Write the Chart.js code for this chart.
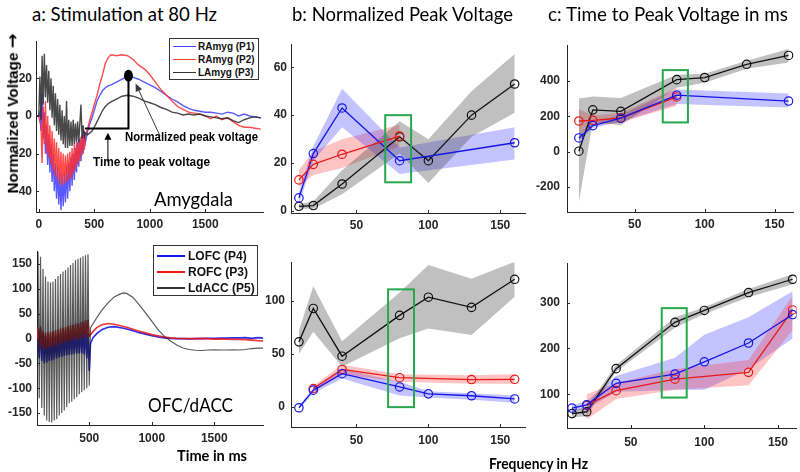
<!DOCTYPE html>
<html><head><meta charset="utf-8">
<script src="https://cdn.jsdelivr.net/npm/chart.js@4.4.0/dist/chart.umd.min.js"></script>
<style>
html,body{margin:0;padding:0;background:#fff;}
#wrap{position:relative;width:800px;height:472px;overflow:hidden;background:#fff;}
canvas{position:absolute;}
.t{position:absolute;white-space:nowrap;color:#000;}
.lg{position:absolute;border:1px solid #333;background:#fff;box-sizing:border-box;}
.ls{position:absolute;}
</style></head><body><div id="wrap"></div>
<script>
// ---------------- Panel a (top): Amygdala, normalized voltage vs time (ms)
const aTopTime = [-25,-10,0,10,20,30,40,50,60,70,80,90,100,110,120,130,140,150,160,170,180,190,200,210,220,230,240,250,260,270,280,290,300,310,320,330,340,350,360,370,380,390,400,410,420,440,460,480,500,525,550,575,600,625,650,700,750,800,850,900,950,1000,1050,1100,1150,1200,1250,1300,1350,1400,1450,1500,1550,1600,1650,1700,1750,1800,1850,1900,1950,2000];
const aTopP3 = [0,0, 0,21,-2,32,6,33,10,27,7,24,3,20,-1,16,-5,12,-8,9,-10,6,-13,3,-15,0,-17,8,-17,-2,-16,-3,-16,-2,-15,-4,-14,-3,-14,-4,6,-12,-5,-11,-9,
  -10,-9,-8,-6,-3,0,3,5,6.5,7.5,
  9,10.5,11,10.5,9.5,8,7,6,4.5,3.5,2,1.5,0.5,1,0.5,1,0,-0.5,-1,-1.5,-1,-2.5,-3.5,-2,-1,-0.5,-1];
const aTopP2 = [0,0, 0,-3,-5,-25,5,-15,8,-20,0,-22,-5,-26,-8,-29,-12,-32,-14,-34,-17,-36,-19,-37,-20,-36,-21,-35,-20,-34,-19,-33,-17,-31,-15,-29,-14,-26,-13,-24,-11,-21,-10,-18,-10,
  -7,-2,2,6,11,17,22,28,31,32.5,
  32,32.5,32,30,27,25,22,18,14,11,8,5,3.5,2,1.5,1,0,-1.5,0,-2,-1,-3,-5,-6,-6,-6.5,-7];
const aTopP1 = [0,0, 0,2,-8,12,-12,2,-20,-5,-26,-10,-30,-15,-35,-20,-40,-25,-44,-27,-47,-30,-50,-31,-48,-30,-46,-27,-44,-25,-40,-22,-37,-20,-34,-17,-30,-14,-27,-12,-24,-10,-20,-8,-14,
  -8,-4,-1,3,8,11,13.5,15,16,16.5,
  18,19.5,21,20.5,19.5,18,16.5,15,13,11,9,7.5,5.5,4,3,2.5,2,2,1.5,1,2,1.5,0,1,0,-0.5,-1];
const aTopXTicks = [0,500,1000,1500];
const aTopYTicks = [-40,-20,0,20];
// annotation marks (data units)
const peakMark = [808, 21.4];
const peakBracket = [416, 808, -6.6];
const arrowTime = [623, -24.4, -8.9];
const arrowPeak = [1093, -10.7, 872, 17.3];

// ---------------- Panel a (bottom): OFC/dACC
const aBotTime = [86,90,100,110,120,130,140,150,160,170,180,190,200,210,220,230,240,250,260,270,280,290,300,310,320,330,340,350,360,370,380,390,400,410,420,430,440,450,460,470,480,490,500,510,530,560,600,650,700,750,775,800,850,900,950,1000,1050,1100,1150,1200,1250,1300,1350,1400,1450,1500,1550,1600,1650,1700,1750,1800,1850,1890];
const aBotP5 = [60,
  175,-120,165,-140,140,-155,125,-165,115,-168,113,-169,115,-165,120,-162,126,-155,130,-150,135,-145,138,-138,143,-130,148,-127,152,-122,158,-118,161,-112,163,-108,166,-104,168,-100,170,-95,
  22,30,42,57,72,84,90,92,91,83,68,52,35,18,5,-5,-13,-19,-22,-23.5,-24,-23,-22.5,-23,-23,-22.5,-23,-22,-20,-19,-19];
const aBotP3 = [0,
  20,-15,25,-20,15,-22,12,-20,12,-18,14,-17,15,-15,17,-14,18,-12,20,-10,22,-8,23,-6,25,-5,27,-4,28,-3,30,-2,31,0,33,1,35,2,37,3,38,5,
  8,14,22,28,30.5,29,26,24.5,23,19,15,11.5,8,5.5,3,1.5,0.5,0,0,0,0.5,0,-1,-0.5,-1,-1.5,-1.5,-2,-3,-4,-4.5];
const aBotP4 = [0,
  15,-40,20,-45,10,-50,5,-48,0,-45,2,-44,3,-42,4,-40,5,-38,6,-37,7,-35,8,-34,9,-33,10,-32,11,-31,12,-30,13,-30,14,-30,15,-32,16,-40,10,-65,
  -10,2,10,18,23,24,22,21,19.5,16,12,9,6,3.5,1.5,0.5,0,0,-0.5,0,0,0.5,0.5,1,1,1.5,1.5,2,0.5,2,1];
const aBotXTicks = [500,1000,1500];
const aBotYTicks = [-150,-100,-50,0,50,100,150];

// ---------------- Panel b: normalized peak voltage vs frequency (Hz)
const bTopFreqBlue = [10,20,40,80,160];
const bTopBlue   = [5.5,24,43,21,28.5];
const bTopBlueLo = [3,21,35,15.5,21.5];
const bTopBlueHi = [8,27,51,26.5,35];
const bTopFreqRed = [10,20,40,80];
const bTopRed   = [13,19.5,23.7,31.3];
const bTopRedLo = [10,15,18,27];
const bTopRedHi = [17,25,30,36];
const bTopFreqBlack = [10,20,40,80,100,130,160];
const bTopBlack   = [2,2.3,11.3,31,21,40,53];
const bTopBlackLo = [1,1,7,24,11.7,31,41];
const bTopBlackHi = [3,4,17,37.5,30,50,65.5];
const bTopBox = [70,88,12,40];

const bBotFreqBlue = [10,20,40,80,100,130,160];
const bBotBlue   = [-0.6,16,31.5,19,12.5,10.7,7.7];
const bBotBlueLo = [-1.5,13,27,11,9,7,4];
const bBotBlueHi = [0.5,18,36,24,15,13,11];
const bBotFreqRed = [20,40,80,130,160];
const bBotRed   = [17.5,35.5,27.7,26,26.2];
const bBotRedLo = [14,31,24,22,22];
const bBotRedHi = [20,40,31,30,31];
const bBotFreqBlack = [10,20,40,80,100,130,160];
const bBotBlack   = [61.5,93,48,86.5,103.6,94,120.5];
const bBotBlackLo = [50,71,38,65,74,68,104];
const bBotBlackHi = [72,114,62,108,134,121,137];
const bBotBox = [72,90,0,111];

// ---------------- Panel c: time to peak voltage (ms) vs frequency (Hz)
const cTopFreqBlue = [10,20,40,80,160];
const cTopBlue   = [78,148,190,320,287];
const cTopBlueLo = [60,135,170,270,250];
const cTopBlueHi = [100,165,210,352,330];
const cTopFreqRed = [10,20,40,80];
const cTopRed   = [174,178,191,310];
const cTopRedLo = [100,150,165,260];
const cTopRedHi = [240,205,220,360];
const cTopFreqBlack = [10,20,40,80,100,130,160];
const cTopBlack   = [3,237,229,408,420,495,545];
const cTopBlackLo = [-285,170,150,362,390,470,505];
const cTopBlackHi = [302,312,304,436,442,515,582];
const cTopBox = [70,88,166,462];

const cBotFreqBlue = [10,20,40,80,100,130,160];
const cBotBlue   = [70,77,124,144,171,212,274];
const cBotBlueLo = [62,68,105,110,110,155,222];
const cBotBlueHi = [76,85,140,180,230,268,325];
const cBotFreqRed = [20,40,80,130,160];
const cBotRed   = [76,108,133,148,284];
const cBotRedLo = [45,90,110,120,240];
const cBotRedHi = [100,125,155,175,315];
const cBotFreqBlack = [10,20,40,80,100,130,160];
const cBotBlack   = [58,62,156,257,283,322,351];
const cBotBlackLo = [50,52,149,245,275,312,340];
const cBotBlackHi = [65,72,164,268,290,330,362];
const cBotBox = [71,88,93,288];

const freqXTicks = [50,100,150];
const bTopYTicks = [0,20,40,60];
const bBotYTicks = [0,50,100];
const cTopYTicks = [-200,0,200,400];
const cBotYTicks = [100,200,300];

// ---------------- drawing
const wrap = document.getElementById('wrap');
const YW = 50, XH = 28, PT = 4, PR = 4;
const AX = '#262626';

const innerTicks = {id:'innerTicks', afterDraw(ch){
  const {ctx, chartArea:a, scales:{x,y}} = ch;
  ctx.save(); ctx.strokeStyle = AX; ctx.lineWidth = 1; ctx.beginPath();
  x.ticks.forEach(t=>{const p=Math.round(x.getPixelForValue(t.value))+0.5; ctx.moveTo(p,a.bottom); ctx.lineTo(p,a.bottom-3);});
  y.ticks.forEach(t=>{const p=Math.round(y.getPixelForValue(t.value))+0.5; ctx.moveTo(a.left,p); ctx.lineTo(a.left+3,p);});
  ctx.stroke(); ctx.restore();
}};

function boxPlugin(b){
  return {id:'greenBox', afterDatasetsDraw(ch){
    const {ctx, scales:{x,y}} = ch;
    const x0=x.getPixelForValue(b[0]), x1=x.getPixelForValue(b[1]);
    const y0=y.getPixelForValue(b[2]), y1=y.getPixelForValue(b[3]);
    ctx.save(); ctx.strokeStyle='#27a84f'; ctx.lineWidth=2;
    ctx.strokeRect(x0, y1, x1-x0, y0-y1); ctx.restore();
  }};
}

function arrow(ctx, x1,y1,x2,y2,color,lw,hl,hw){
  ctx.save(); ctx.strokeStyle=color; ctx.fillStyle=color; ctx.lineWidth=lw;
  const ang=Math.atan2(y2-y1,x2-x1);
  ctx.beginPath(); ctx.moveTo(x1,y1); ctx.lineTo(x2-Math.cos(ang)*hl*0.8, y2-Math.sin(ang)*hl*0.8); ctx.stroke();
  ctx.beginPath(); ctx.moveTo(x2,y2);
  ctx.lineTo(x2-hl*Math.cos(ang)+hw*Math.sin(ang), y2-hl*Math.sin(ang)-hw*Math.cos(ang));
  ctx.lineTo(x2-hl*Math.cos(ang)-hw*Math.sin(ang), y2-hl*Math.sin(ang)+hw*Math.cos(ang));
  ctx.closePath(); ctx.fill(); ctx.restore();
}

const peakAnnot = {id:'peakAnnot', afterDatasetsDraw(ch){
  const {ctx, scales:{x,y}} = ch;
  const px=v=>x.getPixelForValue(v), py=v=>y.getPixelForValue(v);
  ctx.save(); ctx.strokeStyle='#000'; ctx.lineWidth=2; ctx.beginPath();
  ctx.moveTo(px(peakBracket[0]), py(peakBracket[2]));
  ctx.lineTo(px(peakBracket[1]), py(peakBracket[2]));
  ctx.lineTo(px(peakBracket[1]), py(peakMark[1]));
  ctx.stroke();
  ctx.fillStyle='#000'; ctx.beginPath();
  ctx.ellipse(px(peakMark[0]), py(peakMark[1]), 4.5, 6, 0, 0, Math.PI*2); ctx.fill();
  ctx.restore();
  arrow(ctx, px(arrowTime[0]), py(arrowTime[1]), px(arrowTime[0]), py(arrowTime[2]), '#000', 1, 7, 3.5);
  arrow(ctx, px(arrowPeak[0]), py(arrowPeak[1]), px(arrowPeak[2]), py(arrowPeak[3]), '#3a3a3a', 1, 8, 3.5);
}};

function panel(rect, xr, yr, xt, yt, datasets, opt){
  const [L,T,R,B] = rect;
  const c = document.createElement('canvas');
  const w = R-L+YW+PR, h = B-T+PT+XH;
  c.width = w; c.height = h;
  c.style.left=(L-YW)+'px'; c.style.top=(T-PT)+'px'; c.style.width=w+'px'; c.style.height=h+'px';
  wrap.appendChild(c);
  const tickFont = {family:'"Liberation Sans", Arial, sans-serif', weight:'bold', size:12};
  return new Chart(c, {type:'line', data:{datasets}, options:{
    responsive:false, animation:false, devicePixelRatio:1,
    layout:{padding:{left:0, top:PT, right:PR, bottom:0}},
    plugins:{legend:{display:false}, tooltip:{enabled:false}},
    elements:{line:{tension:0}},
    scales:{
      x:{type:'linear', min:xr[0], max:xr[1],
         grid:{display:false, drawTicks:false}, border:{display:true, color:AX, width:1},
         ticks:{font:tickFont, color:AX, padding:opt.xpad, maxRotation:0, minRotation:0, autoSkip:false, callback:v=>String(v)},
         afterBuildTicks:s=>{s.ticks = xt.map(v=>({value:v}));},
         afterFit:s=>{s.height = XH;}},
      y:{type:'linear', min:yr[0], max:yr[1],
         grid:{display:false, drawTicks:false}, border:{display:true, color:AX, width:1},
         ticks:{font:tickFont, color:AX, padding:opt.ypad, autoSkip:false, callback:v=>String(v)},
         afterBuildTicks:s=>{s.ticks = yt.map(v=>({value:v}));},
         afterFit:s=>{s.width = YW;}}
    }
  }, plugins:[innerTicks].concat(opt.plugins||[])});
}

function trace(ts, vs, color, lw, order){
  return {data: ts.map((t,i)=>({x:t, y:vs[i]})), borderColor:color, borderWidth:lw,
          pointRadius:0, fill:false, order:order};
}
function series(xs, ys, lo, hi, col, band, order){
  return [
    {data: xs.map((x,i)=>({x, y:hi[i]})), borderWidth:0, borderColor:'rgba(0,0,0,0)', pointRadius:0, fill:'+1', backgroundColor:band, order:10},
    {data: xs.map((x,i)=>({x, y:lo[i]})), borderWidth:0, borderColor:'rgba(0,0,0,0)', pointRadius:0, fill:false, order:10},
    {data: xs.map((x,i)=>({x, y:ys[i]})), borderColor:col, borderWidth:1.3, pointRadius:4.2, pointHoverRadius:4.2,
     pointBorderColor:col, pointBackgroundColor:'rgba(0,0,0,0)', pointBorderWidth:1.2, fill:false, order:order}
  ];
}
const BL='#1515e6', RD='#e61a1a', BK='#111111';
const BLB='rgba(40,40,255,0.28)', RDB='rgba(255,40,40,0.28)', BKB='rgba(60,60,60,0.32)';

// panel a top
panel([36,34,263,212], [-25,2020], [-51,39.7], aTopXTicks, aTopYTicks, [
  trace(aTopTime, aTopP1, 'rgba(60,60,255,0.85)', 1.4, 3),
  trace(aTopTime, aTopP2, 'rgba(255,45,45,0.85)', 1.4, 2),
  trace(aTopTime, aTopP3, 'rgba(40,40,40,0.85)', 1.4, 1)
], {xpad:5, ypad:4, plugins:[peakAnnot]});

// panel a bottom
panel([37,243,263,425], [82,1890], [-174,176], aBotXTicks, aBotYTicks, [
  trace(aBotTime, aBotP4, 'rgba(20,20,240,0.9)', 1.6, 3),
  trace(aBotTime, aBotP3, 'rgba(235,20,20,0.85)', 1.6, 2),
  trace(aBotTime, aBotP5, 'rgba(25,25,25,0.72)', 1.2, 1)
], {xpad:6, ypad:5});

// panel b
panel([291,37,527,213], [4.5,167.6], [-0.8,69.6], freqXTicks, bTopYTicks, [
  ...series(bTopFreqBlack, bTopBlack, bTopBlackLo, bTopBlackHi, BK, BKB, 3),
  ...series(bTopFreqBlue, bTopBlue, bTopBlueLo, bTopBlueHi, BL, BLB, 2),
  ...series(bTopFreqRed, bTopRed, bTopRedLo, bTopRedHi, RD, RDB, 1)
], {xpad:5, ypad:4, plugins:[boxPlugin(bTopBox)]});

panel([291,253,527,427], [4.5,167.6], [-18.75,136.6], freqXTicks, bBotYTicks, [
  ...series(bBotFreqBlack, bBotBlack, bBotBlackLo, bBotBlackHi, BK, BKB, 3),
  ...series(bBotFreqRed, bBotRed, bBotRedLo, bBotRedHi, RD, RDB, 2),
  ...series(bBotFreqBlue, bBotBlue, bBotBlueLo, bBotBlueHi, BL, BLB, 1)
], {xpad:6, ypad:6, plugins:[boxPlugin(bBotBox)]});

// panel c
panel([567,35,795,212], [1.5,163.6], [-341,603], freqXTicks, cTopYTicks, [
  ...series(cTopFreqBlack, cTopBlack, cTopBlackLo, cTopBlackHi, BK, BKB, 3),
  ...series(cTopFreqRed, cTopRed, cTopRedLo, cTopRedHi, RD, RDB, 2),
  ...series(cTopFreqBlue, cTopBlue, cTopBlueLo, cTopBlueHi, BL, BLB, 1)
], {xpad:5, ypad:7, plugins:[boxPlugin(cTopBox)]});

panel([567,253,798,428], [6.6,162.7], [26.6,386], freqXTicks, cBotYTicks, [
  ...series(cBotFreqBlack, cBotBlack, cBotBlackLo, cBotBlackHi, BK, BKB, 3),
  ...series(cBotFreqRed, cBotRed, cBotRedLo, cBotRedHi, RD, RDB, 2),
  ...series(cBotFreqBlue, cBotBlue, cBotBlueLo, cBotBlueHi, BL, BLB, 1)
], {xpad:7, ypad:7, plugins:[boxPlugin(cBotBox)]});

// ---------------- text (real HTML text), fitted to measured widths
function txt(s, left, cy, width, fs, family, weight, color){
  const d=document.createElement('div'); d.className='t'; d.textContent=s;
  d.style.fontFamily=family; d.style.fontSize=fs+'px'; d.style.fontWeight=weight||'normal';
  d.style.lineHeight=fs+'px'; d.style.color=color||'#000';
  d.style.left=left+'px'; d.style.top=(cy-fs/2)+'px';
  wrap.appendChild(d);
  if(width){ const nat=d.getBoundingClientRect().width; d.style.transformOrigin='0 50%'; d.style.transform='scaleX('+(width/nat)+')'; }
  return d;
}
function vtxt(s, tail, cx, cy, len, fs, family, weight){
  const d=document.createElement('div'); d.className='t';
  d.style.fontFamily=family; d.style.fontSize=fs+'px'; d.style.fontWeight=weight||'normal'; d.style.lineHeight=fs+'px';
  d.appendChild(document.createTextNode(s));
  const sp=document.createElement('span'); sp.textContent=tail;
  sp.style.fontFamily='"DejaVu Sans", sans-serif'; sp.style.fontSize=(fs*1.15)+'px'; sp.style.fontWeight='bold';
  d.appendChild(sp);
  wrap.appendChild(d);
  const nat=d.getBoundingClientRect().width;
  d.style.left=(cx-nat/2)+'px'; d.style.top=(cy-fs/2)+'px';
  d.style.transformOrigin='50% 50%'; d.style.transform='rotate(-90deg) scaleX('+(len/nat)+')';
}
const HUM='Lato, "Open Sans", sans-serif', ARB='"Liberation Sans", Arial, sans-serif';
txt('a: Stimulation at 80 Hz', 32, 13, 185, 20, HUM);
txt('b: Normalized Peak Voltage', 292, 13, 221, 20, HUM);
txt('c: Time to Peak Voltage in ms', 548, 13, 240, 20, HUM);
txt('Amygdala', 154, 198, 79, 20, HUM);
txt('OFC/dACC', 148, 404, 85, 20, HUM);
txt('Time in ms', 177, 455, 70, 15, HUM, 'bold');
txt('Frequency in Hz', 489, 463, 99, 15, HUM, 'bold');
txt('Normalized peak voltage', 125, 137, 133, 12, ARB, 'bold');
txt('Time to peak voltage', 93, 162, 117, 12, ARB, 'bold');
vtxt('Normalized Voltage ', '\u2192', 12, 113, 160, 15, ARB, 'bold');

// legends
function legend(left, top, w, h, items, sampleL, sampleW, textL, fs, lw){
  const b=document.createElement('div'); b.className='lg';
  b.style.left=left+'px'; b.style.top=top+'px'; b.style.width=w+'px'; b.style.height=h+'px';
  wrap.appendChild(b);
  items.forEach(it=>{
    const s=document.createElement('div'); s.className='ls';
    s.style.left=sampleL+'px'; s.style.top=(it[2]-lw/2)+'px'; s.style.width=sampleW+'px'; s.style.height=lw+'px'; s.style.background=it[1];
    wrap.appendChild(s);
    txt(it[0], textL, it[2], 0, fs, ARB, 'bold', '#111');
  });
}
legend(169, 38, 90, 42, [['RAmyg (P1)','rgb(70,70,255)',46.5],['RAmyg (P2)','rgb(255,60,60)',59.5],['LAmyg (P3)','rgb(50,50,50)',72.5]], 173, 23, 198, 10, 1);
legend(153, 245, 105, 51, [['LOFC (P4)','#1414f0',256],['ROFC (P3)','#f01414',272],['LdACC (P5)','#333',288]], 157, 28, 188, 12, 2);
</script></body></html>
